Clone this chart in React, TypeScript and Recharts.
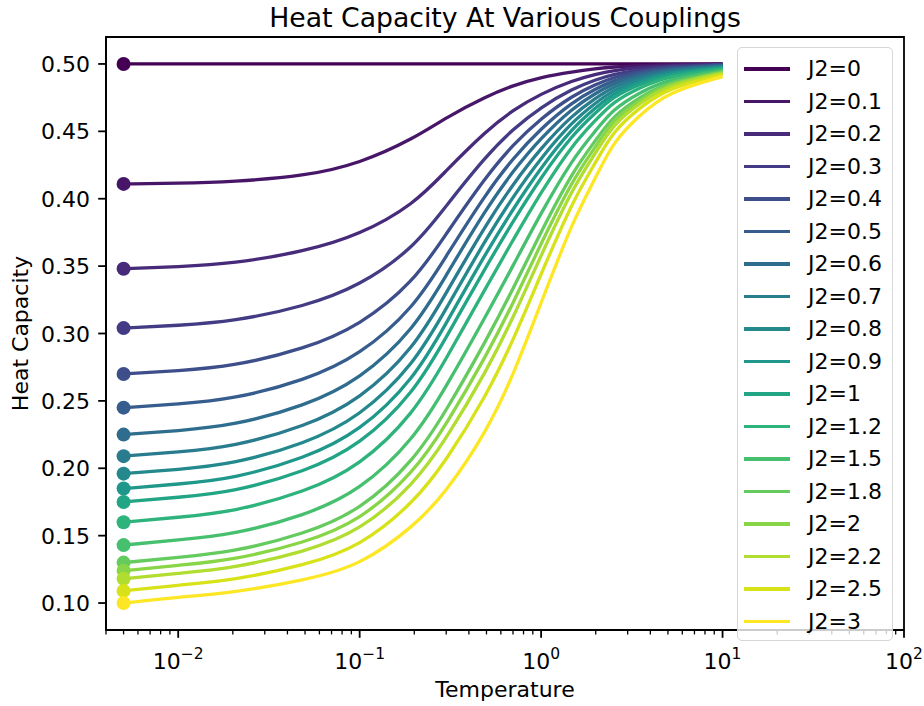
import React from 'react';
import { Legend, Line, LineChart, ReferenceArea, XAxis, YAxis, Label } from 'recharts';

// temperatures where each curve was sampled
const temperature = [0.005, 0.01, 0.02, 0.05, 0.1, 0.2, 0.3, 0.5, 0.7, 1, 1.5, 2, 2.5, 3.5, 5, 10];

// heat capacity per coupling J2
const hcJ2_0 = [0.5, 0.5, 0.5, 0.5, 0.5, 0.5, 0.5, 0.5, 0.5, 0.5, 0.5, 0.5, 0.5, 0.5, 0.5, 0.5];
const hcJ2_01 = [0.411, 0.4114, 0.4126, 0.4168, 0.4261, 0.4448, 0.4604, 0.476, 0.484, 0.4902, 0.4942, 0.4964, 0.4978, 0.4989, 0.4996, 0.5];
const hcJ2_02 = [0.348, 0.3495, 0.3518, 0.3609, 0.3731, 0.3959, 0.421, 0.4506, 0.4658, 0.478, 0.4878, 0.4924, 0.4951, 0.4976, 0.4989, 0.4998];
const hcJ2_03 = [0.304, 0.306, 0.3088, 0.3202, 0.3352, 0.3637, 0.3949, 0.4321, 0.4517, 0.4681, 0.4819, 0.4883, 0.4924, 0.4959, 0.4981, 0.4995];
const hcJ2_04 = [0.27, 0.2723, 0.2756, 0.2886, 0.3057, 0.3385, 0.3741, 0.417, 0.4401, 0.4598, 0.4768, 0.4848, 0.4901, 0.4945, 0.4974, 0.4993];
const hcJ2_05 = [0.245, 0.2476, 0.2512, 0.2652, 0.2837, 0.3192, 0.3576, 0.4044, 0.43, 0.4524, 0.4721, 0.4815, 0.4878, 0.4931, 0.4966, 0.499];
const hcJ2_06 = [0.225, 0.2278, 0.2316, 0.2463, 0.2656, 0.3031, 0.3434, 0.3929, 0.4206, 0.4454, 0.4676, 0.4783, 0.4856, 0.4917, 0.4958, 0.4986];
const hcJ2_07 = [0.209, 0.212, 0.2159, 0.2309, 0.2506, 0.2891, 0.3303, 0.3815, 0.4108, 0.4379, 0.4627, 0.4747, 0.4832, 0.4901, 0.495, 0.4982];
const hcJ2_08 = [0.196, 0.1991, 0.2031, 0.2182, 0.238, 0.2771, 0.3186, 0.3708, 0.4015, 0.4306, 0.4578, 0.4711, 0.4807, 0.4884, 0.494, 0.4978];
const hcJ2_09 = [0.185, 0.1882, 0.1922, 0.2074, 0.227, 0.2663, 0.3077, 0.3605, 0.3923, 0.4234, 0.453, 0.4675, 0.4783, 0.4868, 0.4931, 0.4974];
const hcJ2_1 = [0.175, 0.1784, 0.1824, 0.1974, 0.2168, 0.2561, 0.2972, 0.3502, 0.3832, 0.4161, 0.4481, 0.4639, 0.4758, 0.4851, 0.4922, 0.4969];
const hcJ2_12 = [0.16, 0.1636, 0.1676, 0.1824, 0.2014, 0.2407, 0.2813, 0.3348, 0.3693, 0.4051, 0.4407, 0.4584, 0.472, 0.4826, 0.4908, 0.4962];
const hcJ2_15 = [0.143, 0.1468, 0.1507, 0.165, 0.1831, 0.2216, 0.2606, 0.3138, 0.3502, 0.3897, 0.4302, 0.4506, 0.4666, 0.4789, 0.4887, 0.4952];
const hcJ2_18 = [0.13, 0.1339, 0.1378, 0.1514, 0.1683, 0.2057, 0.2427, 0.2951, 0.3329, 0.3758, 0.4207, 0.4434, 0.4616, 0.4755, 0.4868, 0.4943];
const hcJ2_2 = [0.124, 0.128, 0.1318, 0.1448, 0.1608, 0.1971, 0.2324, 0.2837, 0.3222, 0.367, 0.4146, 0.4388, 0.4585, 0.4733, 0.4855, 0.4937];
const hcJ2_22 = [0.118, 0.1221, 0.1258, 0.1381, 0.1531, 0.1882, 0.2218, 0.2721, 0.3113, 0.3581, 0.4085, 0.4341, 0.4553, 0.4711, 0.4843, 0.4931];
const hcJ2_25 = [0.109, 0.1133, 0.1168, 0.1281, 0.1416, 0.1748, 0.2056, 0.2541, 0.2944, 0.3443, 0.3989, 0.427, 0.4503, 0.4677, 0.4823, 0.4921];
const hcJ2_3 = [0.1, 0.1044, 0.1076, 0.117, 0.1276, 0.157, 0.1824, 0.227, 0.2684, 0.3228, 0.384, 0.4156, 0.4424, 0.4622, 0.4792, 0.4906];

const couplings = ['0', '0.1', '0.2', '0.3', '0.4', '0.5', '0.6', '0.7', '0.8', '0.9', '1', '1.2', '1.5', '1.8', '2', '2.2', '2.5', '3'];
const seriesValues = [
    hcJ2_0, hcJ2_01, hcJ2_02, hcJ2_03, hcJ2_04, hcJ2_05, hcJ2_06, hcJ2_07, hcJ2_08,
    hcJ2_09, hcJ2_1, hcJ2_12, hcJ2_15, hcJ2_18, hcJ2_2, hcJ2_22, hcJ2_25, hcJ2_3,
];

// viridis, 18 steps
const colors = [
    '#440154', '#481668', '#472a79', '#433c84', '#3d4e8a', '#365d8d', '#2f6d8e', '#297b8e', '#23898d',
    '#1f988b', '#21a585', '#2eb37c', '#46c06f', '#65cb5e', '#89d548', '#b0dd2f', '#d8e219', '#fde725',
];

const xTicks = [
    0.004, 0.005, 0.006, 0.007, 0.008, 0.009,
    0.01, 0.02, 0.03, 0.04, 0.05, 0.06, 0.07, 0.08, 0.09,
    0.1, 0.2, 0.3, 0.4, 0.5, 0.6, 0.7, 0.8, 0.9,
    1, 2, 3, 4, 5, 6, 7, 8, 9,
    10, 20, 30, 40, 50, 60, 70, 80, 90, 100,
];
const yTicks = [0.1, 0.15, 0.2, 0.25, 0.3, 0.35, 0.4, 0.45, 0.5];

const data = temperature.map((t, i) => {
    const row: Record<string, number> = { T: t };
    seriesValues.forEach((s, k) => { row['s' + k] = s[i]; });
    return row;
});

const FONT = 'DejaVu Sans';
const AXIS_Y = 630;
const AXIS_X = 106;

const XTick = (props: any) => {
    const { x, payload } = props;
    const lg = Math.log10(payload.value);
    const e = Math.round(lg);
    const major = Math.abs(lg - e) < 1e-6;
    return (
        <g>
            <line x1={x} x2={x} y1={AXIS_Y} y2={AXIS_Y + (major ? 7.8 : 4.4)} stroke="#000" strokeWidth={major ? 1.8 : 1.3} />
            {major && (
                <text x={x} y={669} textAnchor="middle" fontSize={22} fontFamily={FONT} fill="#000">
                    10<tspan dy={-10} fontSize={15.5}>{e < 0 ? '\u2212' + -e : e}</tspan>
                </text>
            )}
        </g>
    );
};

const YTick = (props: any) => {
    const { y, payload } = props;
    return (
        <g>
            <line x1={AXIS_X - 7.8} x2={AXIS_X} y1={y} y2={y} stroke="#000" strokeWidth={1.8} />
            <text x={90} y={y + 8} textAnchor="end" fontSize={22} fontFamily={FONT} fill="#000">
                {payload.value.toFixed(2)}
            </text>
        </g>
    );
};

const firstDot = (color: string) => (props: any) => {
    if (props.index !== 0) return <g key={'d' + props.index} />;
    return <circle key="d0" cx={props.cx} cy={props.cy} r={7} fill={color} stroke="none" />;
};

const LegendBox = () => (
    <div
        style={{
            position: 'relative', width: 156, height: 594, boxSizing: 'border-box',
            border: '1.8px solid #d6d6d6', borderRadius: 5, background: 'rgba(255,255,255,0.8)',
            fontFamily: FONT, fontSize: 22, color: '#000',
        }}
    >
        {couplings.map((c, i) => (
            <div key={c} style={{ position: 'absolute', left: 6, top: 5 + i * 32.5, height: 32, display: 'flex', alignItems: 'center' }}>
                <div style={{ width: 46, height: 3.3, background: colors[i] }} />
                <span style={{ marginLeft: 18, lineHeight: '32px', whiteSpace: 'nowrap' }}>J2={c}</span>
            </div>
        ))}
    </div>
);

export default function App() {
    return (
        <div style={{ position: 'absolute', left: 0, top: 0, width: 924, height: 706, background: '#fff', fontFamily: FONT }}>
            <LineChart width={924} height={706} data={data} margin={{ top: 37, right: 20, bottom: 0, left: 0 }}>
                <text x={505} y={27} textAnchor="middle" fontSize={26.7} fontFamily={FONT} fill="#000">
                    Heat Capacity At Various Couplings
                </text>
                <XAxis
                    dataKey="T" type="number" scale="log" domain={[0.004, 100]} allowDataOverflow
                    ticks={xTicks} interval={0} height={76} tick={<XTick />} tickLine={false}
                    axisLine={{ stroke: '#000', strokeWidth: 1.8 }}
                >
                    <Label value="Temperature" position="insideBottom" offset={9} fontSize={22} fontFamily={FONT} fill="#000" />
                </XAxis>
                <YAxis
                    type="number" domain={[0.08, 0.52]} allowDataOverflow ticks={yTicks} interval={0}
                    width={106} tick={<YTick />} tickLine={false} axisLine={{ stroke: '#000', strokeWidth: 1.8 }}
                >
                    <Label
                        content={() => (
                            <text x={0} y={0} transform="translate(28,333.5) rotate(-90)" textAnchor="middle" fontSize={22} fontFamily={FONT} fill="#000">
                                Heat Capacity
                            </text>
                        )}
                    />
                </YAxis>
                <ReferenceArea x1={0.004} x2={100} y1={0.08} y2={0.52} fill="none" stroke="#000" strokeWidth={1.8} ifOverflow="visible" />
                {seriesValues.map((_, k) => (
                    <Line
                        key={k}
                        type="basis"
                        dataKey={'s' + k}
                        name={'J2=' + couplings[k]}
                        stroke={colors[k]}
                        strokeWidth={3.3}
                        dot={firstDot(colors[k])}
                        activeDot={false}
                        isAnimationActive={false}
                    />
                ))}
                <Legend
                    layout="vertical" align="center" verticalAlign="middle"
                    wrapperStyle={{ left: 737, top: 47, width: 156, height: 594 }}
                    content={() => <LegendBox />}
                />
            </LineChart>
        </div>
    );
}
